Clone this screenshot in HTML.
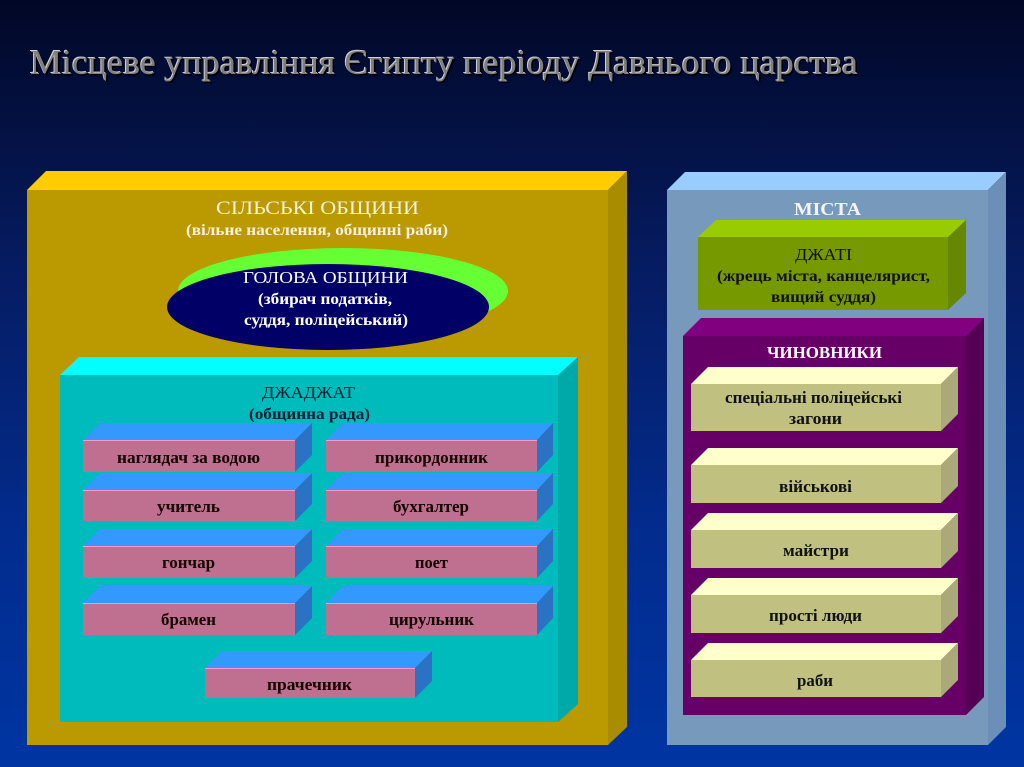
<!DOCTYPE html>
<html><head><meta charset="utf-8"><style>
html,body{margin:0;padding:0;width:1024px;height:767px;overflow:hidden;background:#02103f}
svg{display:block}
text{font-family:"Liberation Serif","DejaVu Serif",serif}
</style></head><body>
<svg width="1024" height="767" viewBox="0 0 1024 767" xmlns="http://www.w3.org/2000/svg">
<defs>
<linearGradient id="bg" x1="0" y1="0" x2="0" y2="1">
<stop offset="0" stop-color="#010726"/>
<stop offset="0.35" stop-color="#061c62"/>
<stop offset="0.7" stop-color="#022c8e"/>
<stop offset="1" stop-color="#0035a2"/>
</linearGradient>
</defs>
<rect width="1024" height="767" fill="url(#bg)"/>

<!-- Title -->
<text x="31.5" y="75.5" font-size="35" fill="#000" textLength="828" lengthAdjust="spacingAndGlyphs">Місцеве управління Єгипту періоду Давнього царства</text>
<text x="29" y="73" font-size="35" fill="#cfcfcf" textLength="828" lengthAdjust="spacingAndGlyphs">Місцеве управління Єгипту періоду Давнього царства</text>
<text x="30" y="74" font-size="35" fill="#7f7f7f" textLength="828" lengthAdjust="spacingAndGlyphs">Місцеве управління Єгипту періоду Давнього царства</text>

<!-- Gold box -->
<polygon points="27,190 46,171 627,171 608,190" fill="#ffcc00"/>
<polygon points="608,190 627,171 627,727 608,745" fill="#a98c00"/>
<rect x="27" y="190" width="581" height="555" fill="#bb9900"/>
<text x="317.5" y="214" font-size="19" fill="#f4f0dc" text-anchor="middle" textLength="203" lengthAdjust="spacingAndGlyphs">СІЛЬСЬКІ ОБЩИНИ</text>
<text x="317" y="235" font-size="16" font-weight="bold" fill="#f4f0dc" text-anchor="middle" textLength="262" lengthAdjust="spacingAndGlyphs">(вільне населення, общинні раби)</text>

<!-- Ellipse -->
<ellipse cx="343" cy="291" rx="165" ry="43" fill="#66ff33"/>
<ellipse cx="328" cy="307" rx="161" ry="43" fill="#000066"/>
<text x="325.5" y="283" font-size="17" fill="#fff" text-anchor="middle" textLength="165" lengthAdjust="spacingAndGlyphs">ГОЛОВА  ОБЩИНИ</text>
<text x="325" y="304" font-size="16" font-weight="bold" fill="#fff" text-anchor="middle" textLength="134" lengthAdjust="spacingAndGlyphs">(збирач податків,</text>
<text x="326" y="325" font-size="16" font-weight="bold" fill="#fff" text-anchor="middle" textLength="164" lengthAdjust="spacingAndGlyphs">суддя, поліцейський)</text>

<!-- Cyan box -->
<polygon points="60,375 79,357 578,357 558,375" fill="#00ffff"/>
<polygon points="558,375 578,357 578,704 558,722" fill="#00a9a9"/>
<rect x="60" y="375" width="498" height="347" fill="#00bbbb"/>
<text x="308.5" y="398" font-size="17" fill="#001a33" text-anchor="middle" textLength="93" lengthAdjust="spacingAndGlyphs">ДЖАДЖАТ</text>
<text x="309.5" y="419" font-size="16" font-weight="bold" fill="#001a33" text-anchor="middle" textLength="121" lengthAdjust="spacingAndGlyphs">(общинна рада)</text>

<!-- Pink boxes -->
<g font-size="17" font-weight="bold" fill="#000" text-anchor="middle">
<polygon points="83,440 100,423 312,423 295,440" fill="#3399ff"/>
<polygon points="295,440 312,423 312,455 295,472" fill="#2b72c4"/>
<rect x="83" y="440" width="212" height="32" fill="#bf6f8f"/>
<line x1="83" y1="440.5" x2="295" y2="440.5" stroke="#ff99cc" stroke-width="1"/>
<text x="188.5" y="463" fill="#110000" textLength="143" lengthAdjust="spacingAndGlyphs">наглядач за водою</text>
<polygon points="326,440 343,423 553,423 537,440" fill="#3399ff"/>
<polygon points="537,440 553,423 553,455 537,472" fill="#2b72c4"/>
<rect x="326" y="440" width="211" height="32" fill="#bf6f8f"/>
<line x1="326" y1="440.5" x2="537" y2="440.5" stroke="#ff99cc" stroke-width="1"/>
<text x="431.5" y="463" fill="#110000" textLength="113" lengthAdjust="spacingAndGlyphs">прикордонник</text>

<polygon points="83,490 100,473 312,473 295,490" fill="#3399ff"/>
<polygon points="295,490 312,473 312,504 295,521" fill="#2b72c4"/>
<rect x="83" y="490" width="212" height="31" fill="#bf6f8f"/>
<line x1="83" y1="490.5" x2="295" y2="490.5" stroke="#ff99cc" stroke-width="1"/>
<text x="188.5" y="512" fill="#110000" textLength="63" lengthAdjust="spacingAndGlyphs">учитель</text>
<polygon points="326,490 343,473 553,473 537,490" fill="#3399ff"/>
<polygon points="537,490 553,473 553,504 537,521" fill="#2b72c4"/>
<rect x="326" y="490" width="211" height="31" fill="#bf6f8f"/>
<line x1="326" y1="490.5" x2="537" y2="490.5" stroke="#ff99cc" stroke-width="1"/>
<text x="431" y="512" fill="#110000" textLength="76" lengthAdjust="spacingAndGlyphs">бухгалтер</text>

<polygon points="83,546 100,529 312,529 295,546" fill="#3399ff"/>
<polygon points="295,546 312,529 312,561 295,578" fill="#2b72c4"/>
<rect x="83" y="546" width="212" height="32" fill="#bf6f8f"/>
<line x1="83" y1="546.5" x2="295" y2="546.5" stroke="#ff99cc" stroke-width="1"/>
<text x="188.5" y="568" fill="#110000" textLength="53" lengthAdjust="spacingAndGlyphs">гончар</text>
<polygon points="326,546 343,529 553,529 537,546" fill="#3399ff"/>
<polygon points="537,546 553,529 553,561 537,578" fill="#2b72c4"/>
<rect x="326" y="546" width="211" height="32" fill="#bf6f8f"/>
<line x1="326" y1="546.5" x2="537" y2="546.5" stroke="#ff99cc" stroke-width="1"/>
<text x="431.5" y="568" fill="#110000" textLength="33" lengthAdjust="spacingAndGlyphs">поет</text>

<polygon points="83,603 100,586 312,586 295,603" fill="#3399ff"/>
<polygon points="295,603 312,586 312,618 295,635" fill="#2b72c4"/>
<rect x="83" y="603" width="212" height="32" fill="#bf6f8f"/>
<line x1="83" y1="603.5" x2="295" y2="603.5" stroke="#ff99cc" stroke-width="1"/>
<text x="188.5" y="625" fill="#110000" textLength="55" lengthAdjust="spacingAndGlyphs">брамен</text>
<polygon points="326,603 343,586 553,586 537,603" fill="#3399ff"/>
<polygon points="537,603 553,586 553,618 537,635" fill="#2b72c4"/>
<rect x="326" y="603" width="211" height="32" fill="#bf6f8f"/>
<line x1="326" y1="603.5" x2="537" y2="603.5" stroke="#ff99cc" stroke-width="1"/>
<text x="431.5" y="625" fill="#110000" textLength="85" lengthAdjust="spacingAndGlyphs">цирульник</text>

<polygon points="205,668 222,651 432,651 415,668" fill="#3399ff"/>
<polygon points="415,668 432,651 432,681 415,698" fill="#2b72c4"/>
<rect x="205" y="668" width="210" height="30" fill="#bf6f8f"/>
<line x1="205" y1="668.5" x2="415" y2="668.5" stroke="#ff99cc" stroke-width="1"/>
<text x="309.5" y="690" fill="#110000" textLength="85" lengthAdjust="spacingAndGlyphs">прачечник</text>
</g>

<!-- Right light box -->
<polygon points="667,190 685,172 1006,172 988,190" fill="#99ccff"/>
<polygon points="988,190 1006,172 1006,727 988,745" fill="#6b8fb6"/>
<rect x="667" y="190" width="321" height="555" fill="#7799bb"/>
<text x="827.5" y="215" font-size="18" font-weight="bold" fill="#f4f4ff" text-anchor="middle" textLength="67" lengthAdjust="spacingAndGlyphs">МІСТА</text>

<!-- Green box -->
<polygon points="698,237 716,220 966,220 948,237" fill="#99cc00"/>
<polygon points="948,237 966,220 966,293 948,310" fill="#668800"/>
<rect x="698" y="237" width="250" height="73" fill="#779900"/>
<text x="823.5" y="260" font-size="17" fill="#111" text-anchor="middle" textLength="57" lengthAdjust="spacingAndGlyphs">ДЖАТІ</text>
<text x="823.5" y="281" font-size="16" font-weight="bold" fill="#111" text-anchor="middle" textLength="213" lengthAdjust="spacingAndGlyphs">(жрець міста, канцелярист,</text>
<text x="823.5" y="302" font-size="16" font-weight="bold" fill="#111" text-anchor="middle" textLength="105" lengthAdjust="spacingAndGlyphs">вищий суддя)</text>

<!-- Purple box -->
<polygon points="683,336 701,318 984,318 966,336" fill="#800080"/>
<polygon points="966,336 984,318 984,697 966,715" fill="#550055"/>
<rect x="683" y="336" width="283" height="379" fill="#660066"/>
<text x="824.5" y="358" font-size="17" font-weight="bold" fill="#fff" text-anchor="middle" textLength="115" lengthAdjust="spacingAndGlyphs">ЧИНОВНИКИ</text>

<!-- Yellow boxes -->
<g font-size="17" font-weight="bold" fill="#111" text-anchor="middle">
<polygon points="691,384 708,367 958,367 941,384" fill="#ffffcc"/>
<polygon points="941,384 958,367 958,414 941,431" fill="#a9a97a"/>
<rect x="691" y="384" width="250" height="47" fill="#c0c080"/>
<text x="813.5" y="403" textLength="177" lengthAdjust="spacingAndGlyphs">спеціальні поліцейські</text>
<text x="815.5" y="424" textLength="53" lengthAdjust="spacingAndGlyphs">загони</text>

<polygon points="691,465 708,448 958,448 941,465" fill="#ffffcc"/>
<polygon points="941,465 958,448 958,486 941,503" fill="#a9a97a"/>
<rect x="691" y="465" width="250" height="38" fill="#c0c080"/>
<text x="815.5" y="492" textLength="73" lengthAdjust="spacingAndGlyphs">військові</text>

<polygon points="691,530 708,513 958,513 941,530" fill="#ffffcc"/>
<polygon points="941,530 958,513 958,551 941,568" fill="#a9a97a"/>
<rect x="691" y="530" width="250" height="38" fill="#c0c080"/>
<text x="816" y="556" textLength="66" lengthAdjust="spacingAndGlyphs">майстри</text>

<polygon points="691,595 708,578 958,578 941,595" fill="#ffffcc"/>
<polygon points="941,595 958,578 958,616 941,633" fill="#a9a97a"/>
<rect x="691" y="595" width="250" height="38" fill="#c0c080"/>
<text x="815.5" y="621" textLength="93" lengthAdjust="spacingAndGlyphs">прості люди</text>

<polygon points="691,660 708,643 958,643 941,660" fill="#ffffcc"/>
<polygon points="941,660 958,643 958,680 941,697" fill="#a9a97a"/>
<rect x="691" y="660" width="250" height="37" fill="#c0c080"/>
<text x="815" y="686" textLength="36" lengthAdjust="spacingAndGlyphs">раби</text>
</g>
</svg>
</body></html>
